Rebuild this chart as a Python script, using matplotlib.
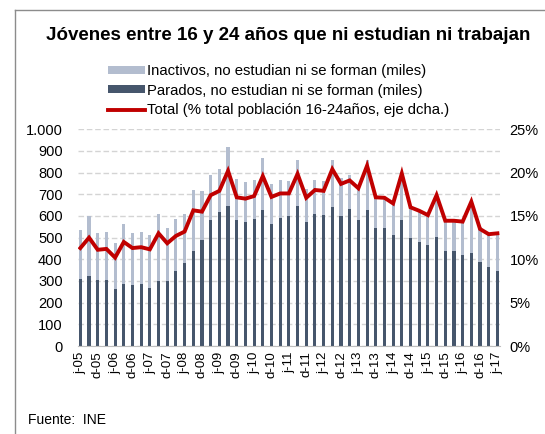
import matplotlib
matplotlib.use("Agg")
import matplotlib.pyplot as plt
from matplotlib.lines import Line2D
from matplotlib.patches import Patch
from matplotlib.ticker import FuncFormatter, MultipleLocator
import numpy as np

plt.rcParams['font.family'] = ['Liberation Sans', 'DejaVu Sans']

# Quarterly data, jun-2005 .. jun-2017
tick_labels = ['j-05', 'd-05', 'j-06', 'd-06', 'j-07', 'd-07', 'j-08', 'd-08',
               'j-09', 'd-09', 'j-10', 'd-10', 'j-11', 'd-11', 'j-12', 'd-12',
               'j-13', 'd-13', 'j-14', 'd-14', 'j-15', 'd-15', 'j-16', 'd-16', 'j-17']

parados = [309, 325, 305, 305, 265, 288, 283, 288, 268, 300,
           300, 346, 383, 437, 491, 582, 617, 648, 582, 574,
           588, 628, 564, 592, 600, 646, 574, 609, 605, 642,
           598, 634, 582, 629, 546, 546, 514, 582, 497, 480,
           466, 505, 437, 437, 420, 431, 388, 366, 348]

total_miles = [534, 600, 522, 528, 475, 563, 522, 528, 511, 611,
               546, 588, 611, 720, 714, 791, 815, 917, 772, 755,
               766, 868, 749, 766, 762, 857, 725, 766, 762, 857,
               777, 791, 725, 857, 689, 689, 662, 803, 640, 622,
               603, 698, 582, 582, 572, 662, 548, 520, 520]

total_pct = [11.3, 12.5, 11.1, 11.2, 10.2, 12.0, 11.3, 11.4, 11.15, 13.0,
             11.85, 12.7, 13.2, 15.65, 15.5, 17.4, 17.9, 20.2, 17.15, 17.0,
             17.3, 19.6, 17.2, 17.6, 17.6, 19.85, 17.1, 18.0, 17.9, 20.4,
             18.7, 19.1, 18.2, 20.8, 17.15, 17.1, 16.45, 19.9, 16.0, 15.6,
             15.1, 17.4, 14.45, 14.45, 14.35, 16.65, 13.5, 12.9, 13.0]

inactivos = [t - p for t, p in zip(total_miles, parados)]

label_inact = 'Inactivos, no estudian ni se forman (miles)'
label_par = 'Parados, no estudian ni se forman (miles)'
label_tot = 'Total (% total población 16-24años, eje dcha.)'
title = 'Jóvenes entre 16 y 24 años que ni estudian ni trabajan'
source = 'Fuente:  INE'

c_light = '#b3bdcf'
c_dark = '#46566c'
c_red = '#c00000'
c_grid = '#d4d4d4'

W, H = 545, 434
fig = plt.figure(figsize=(W / 100, H / 100), dpi=100)

ax = fig.add_axes([78 / W, (H - 346) / H, 422 / W, (346 - 129.3) / H])
x = np.arange(len(parados))
bw = 0.36
ax.bar(x, parados, width=bw, color=c_dark, zorder=2)
ax.bar(x, inactivos, width=bw, bottom=parados, color=c_light, zorder=2)
ax.set_ylim(0, 1000)
ax.set_xlim(-0.27, len(x) - 1 + 0.3)
ax.yaxis.set_major_locator(MultipleLocator(100))
ax.yaxis.set_major_formatter(FuncFormatter(lambda v, p: f'{int(v):,}'.replace(',', '.')))
ax.grid(axis='y', color=c_grid, linestyle=(0, (4, 2)), linewidth=1.0, zorder=0)
ax.set_axisbelow(True)
for s in ['top', 'right', 'left']:
    ax.spines[s].set_visible(False)
ax.spines['bottom'].set_color('#bfbfbf')
ax.set_xticks(x[::2])
ax.set_xticklabels(tick_labels, rotation=90, fontsize=9.5)
ax.tick_params(axis='x', length=0, pad=4)
ax.tick_params(axis='y', length=0, pad=11, labelsize=10.5)

ax2 = ax.twinx()
ax2.plot(x, total_pct, color=c_red, linewidth=2.8, zorder=3, solid_joinstyle='miter')
ax2.set_ylim(0, 25)
ax2.yaxis.set_major_locator(MultipleLocator(5))
ax2.yaxis.set_major_formatter(FuncFormatter(lambda v, p: f'{int(v)}%'))
ax2.tick_params(axis='y', length=0, pad=7, labelsize=10.5)
for s in ['top', 'right', 'left', 'bottom']:
    ax2.spines[s].set_visible(False)

fig.text(288 / W, 1 - 36 / H, title, ha='center', va='center', fontsize=13.5,
         fontweight='bold')

handles = [Patch(facecolor=c_light, edgecolor='none'),
           Patch(facecolor=c_dark, edgecolor='none'),
           Line2D([0], [0], color=c_red, linewidth=2.8)]
fig.legend(handles, [label_inact, label_par, label_tot], loc='upper left',
           bbox_to_anchor=(108 / W, 1 - 64 / H), frameon=False, fontsize=10.7,
           handlelength=2.5, handleheight=0.45, handletextpad=0.15,
           labelspacing=0.38, borderpad=0, borderaxespad=0)

fig.text(28 / W, 1 - 420 / H, source, ha='left', va='center', fontsize=10)

# outer frame (partially visible)
fig.add_artist(Line2D([15 / W, 1], [1 - 10 / H, 1 - 10 / H], color='#8c8c8c', linewidth=1.0,
                      transform=fig.transFigure))
fig.add_artist(Line2D([15 / W, 15 / W], [0, 1 - 10 / H], color='#8c8c8c', linewidth=1.0,
                      transform=fig.transFigure))

fig.savefig('out.png', dpi=100)
